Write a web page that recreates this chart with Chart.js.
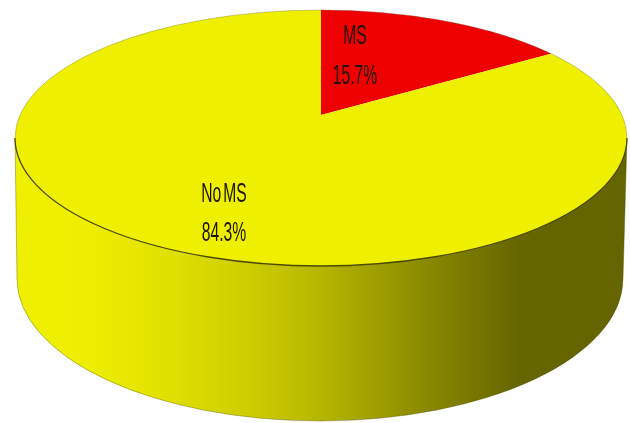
<!DOCTYPE html>
<html>
<head>
<meta charset="utf-8">
<style>
  html, body { margin: 0; padding: 0; background: #fff; }
  canvas { display: block; filter: blur(0.4px); }
</style>
<script src="https://cdn.jsdelivr.net/npm/chart.js@4"></script>
</head>
<body>
<canvas id="myChart" width="630" height="423"></canvas>
<script>
const categories = ['MS', 'No MS'];
const values = [15.7, 84.3];
const sliceColors = ['#ee0000', '#efef00'];

// top face of the disc, and where the slices meet (off centre, perspective)
const top3d = { x: 321, y: 138, rx: 306, ry: 128 };
const apex = { x: 321, y: 115, reach: 420, tilt: 0.403 };
// bottom rim
const rim = { x: 320, y: 279, rx: 303, ry: 142 };

const labelSpots = [
  { x: 355, y: 37, y2: 77 },
  { x: 224, y: 195, y2: 234 }
];

const pie3d = {
  id: 'pie3d',
  beforeDraw(chart) {
    const c = chart.ctx;
    const g = c.createLinearGradient(16, 0, 627, 0);
    g.addColorStop(0, '#efef00');
    g.addColorStop(0.12, '#eeee00');
    g.addColorStop(0.25, '#e0e000');
    g.addColorStop(0.38, '#cdcd00');
    g.addColorStop(0.49, '#b8b800');
    g.addColorStop(0.66, '#8c8c00');
    g.addColorStop(0.82, '#666600');
    g.addColorStop(1, '#646400');
    c.save();
    c.beginPath();
    c.moveTo(top3d.x - top3d.rx, top3d.y);
    c.lineTo(rim.x - rim.rx, rim.y);
    c.ellipse(rim.x, rim.y, rim.rx, rim.ry, 0, Math.PI, 0, true);
    c.lineTo(top3d.x + top3d.rx, top3d.y);
    c.closePath();
    c.fillStyle = g;
    c.fill();
    c.strokeStyle = 'rgba(70,70,0,0.35)';
    c.lineWidth = 1;
    c.stroke();
    c.restore();
  },
  beforeDatasetsDraw(chart) {
    const c = chart.ctx;
    const arc = chart.getDatasetMeta(0).data[0];
    const sx = apex.reach / arc.outerRadius;
    c.save();
    c.beginPath();
    c.ellipse(top3d.x, top3d.y, top3d.rx, top3d.ry, 0, 0, Math.PI * 2);
    c.clip();
    c.translate(apex.x, apex.y);
    c.scale(sx, sx * apex.tilt);
    c.translate(-arc.x, -arc.y);
  },
  afterDatasetsDraw(chart) {
    const c = chart.ctx;
    c.restore();

    // edges of the top face
    c.save();
    c.beginPath();
    c.ellipse(top3d.x, top3d.y, top3d.rx, top3d.ry, 0, Math.PI, Math.PI * 2);
    c.strokeStyle = 'rgba(90,90,70,0.3)';
    c.lineWidth = 1;
    c.stroke();
    c.beginPath();
    c.ellipse(top3d.x, top3d.y, top3d.rx, top3d.ry, 0, 0, Math.PI);
    c.strokeStyle = '#4a4a00';
    c.lineWidth = 1.3;
    c.stroke();
    c.restore();

    // labels, squeezed like the original
    c.save();
    c.fillStyle = '#1a1400';
    c.font = '27px "Liberation Sans Narrow", "Liberation Sans", sans-serif';
    c.wordSpacing = '-4px';
    c.textAlign = 'center';
    c.textBaseline = 'middle';
    categories.forEach((name, i) => {
      const s = labelSpots[i];
      [[name, s.y], [values[i] + '%', s.y2]].forEach(([txt, y]) => {
        c.save();
        c.translate(s.x, y);
        c.scale(0.58, 1);
        c.fillText(txt, 0, 0);
        c.restore();
      });
    });
    c.restore();
  }
};

new Chart(document.getElementById('myChart'), {
  type: 'pie',
  data: {
    labels: categories,
    datasets: [{
      data: values,
      backgroundColor: sliceColors,
      borderWidth: 0
    }]
  },
  options: {
    responsive: false,
    animation: false,
    plugins: {
      legend: { display: false },
      tooltip: { enabled: false }
    }
  },
  plugins: [pie3d]
});
</script>
</body>
</html>
